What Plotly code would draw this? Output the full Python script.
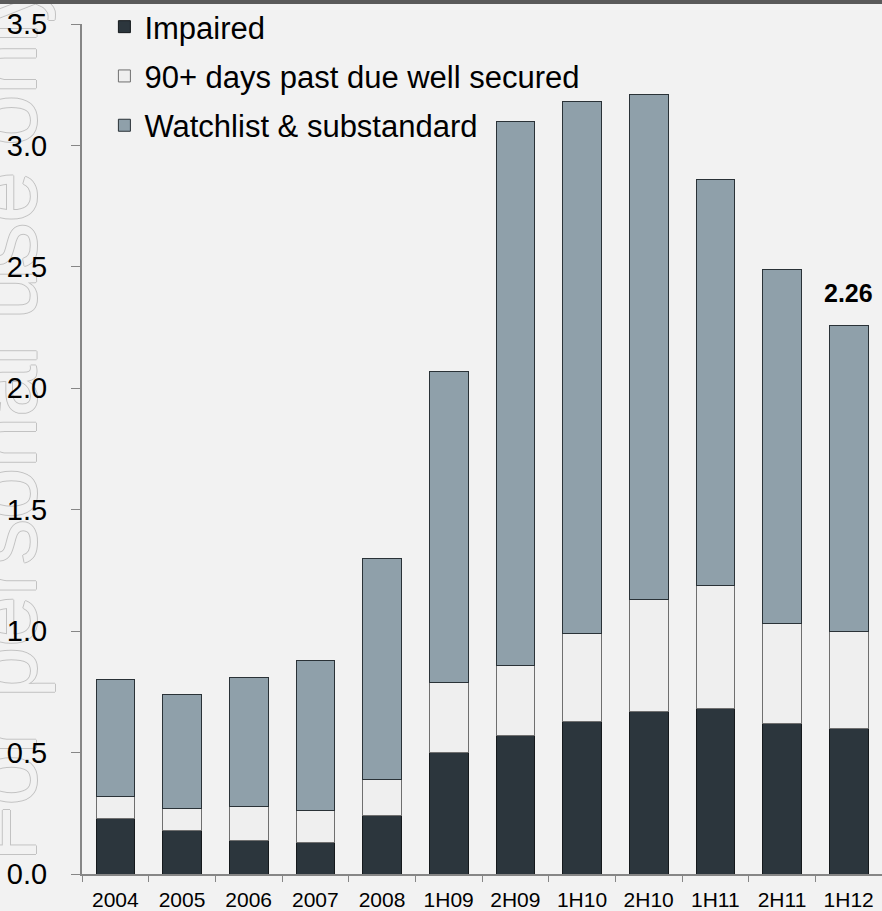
import plotly.graph_objects as go

categories = ["2004", "2005", "2006", "2007", "2008", "1H09", "2H09",
              "1H10", "2H10", "1H11", "2H11", "1H12"]
impaired = [0.23, 0.18, 0.14, 0.13, 0.24, 0.50, 0.57, 0.63, 0.67, 0.68, 0.62, 0.60]
past_due_90 = [0.09, 0.09, 0.14, 0.13, 0.15, 0.29, 0.29, 0.36, 0.46, 0.51, 0.41, 0.40]
watchlist = [0.48, 0.47, 0.53, 0.62, 0.91, 1.28, 2.24, 2.19, 2.08, 1.67, 1.46, 1.26]
y_ticks = [0.0, 0.5, 1.0, 1.5, 2.0, 2.5, 3.0, 3.5]

FONT = "Liberation Sans, Arial, sans-serif"
BG = "#f2f2f2"

fig = go.Figure()
fig.add_trace(go.Bar(
    x=categories, y=impaired, name="Impaired", legendgroup="a",
    marker=dict(color="#2c363d", line=dict(color="#15191c", width=1)),
))
fig.add_trace(go.Bar(
    x=categories, y=past_due_90, name="90+ days past due well secured", legendgroup="b",
    marker=dict(color="#efefef", line=dict(color="#6f6f6f", width=1)),
))
fig.add_trace(go.Bar(
    x=categories, y=watchlist, name="Watchlist & substandard", legendgroup="c",
    marker=dict(color="#8fa0aa", line=dict(color="#2a3237", width=1)),
))

last_total = impaired[-1] + past_due_90[-1] + watchlist[-1]
fig.add_annotation(
    x=categories[-1], y=last_total, text="<b>%.2f</b>" % last_total,
    showarrow=False, yanchor="bottom", yshift=16,
    font=dict(family=FONT, size=25, color="#000000"),
)

# watermark (drawn below the axes so tick labels stay on top)
outline = "1px 0 0 #c2c2c2, -1px 0 0 #c2c2c2, 0 1px 0 #c2c2c2, 0 -1px 0 #c2c2c2"
fig.add_shape(
    type="rect", xref="paper", yref="paper", layer="below",
    x0=-0.116, x1=-0.102, y0=0.30, y1=0.77,
    line=dict(width=0), fillcolor="rgba(0,0,0,0)",
    label=dict(text="For personal use only", textangle=-90, textposition="middle center",
               font=dict(family=FONT, size=92, color=BG, shadow=outline)),
)

# top border
fig.add_shape(type="rect", xref="paper", yref="paper",
              x0=-82 / 800, x1=1.01, y0=1 + 20 / 851, y1=1 + 24 / 851,
              fillcolor="#5a5a5a", line=dict(width=0), layer="above")

fig.update_layout(
    width=882, height=911,
    margin=dict(l=82, r=0, t=23, b=37),
    paper_bgcolor=BG, plot_bgcolor=BG,
    barmode="stack", bargap=0.42,
    font=dict(family=FONT, color="#000000"),
    showlegend=True,
    legend=dict(
        x=0.028, y=1.028, xanchor="left", yanchor="top",
        bgcolor="rgba(0,0,0,0)", traceorder="grouped", tracegroupgap=6,
        font=dict(family=FONT, size=31, color="#000000"),
    ),
    xaxis=dict(
        showline=True, linecolor="#868686", linewidth=2,
        ticks="outside", tickson="boundaries", ticklen=6, tickcolor="#868686",
        tickfont=dict(family=FONT, size=21, color="#000000"),
        ticklabelstandoff=6, showgrid=False, zeroline=False,
    ),
    yaxis=dict(
        range=[0, 3.5], tickvals=y_ticks, tickformat=".1f",
        showline=True, linecolor="#868686", linewidth=2,
        ticks="outside", ticklen=9, tickcolor="#868686",
        tickfont=dict(family=FONT, size=29, color="#000000"),
        ticklabelstandoff=18, showgrid=False, zeroline=False,
    ),
)

fig.write_html("out.html")
